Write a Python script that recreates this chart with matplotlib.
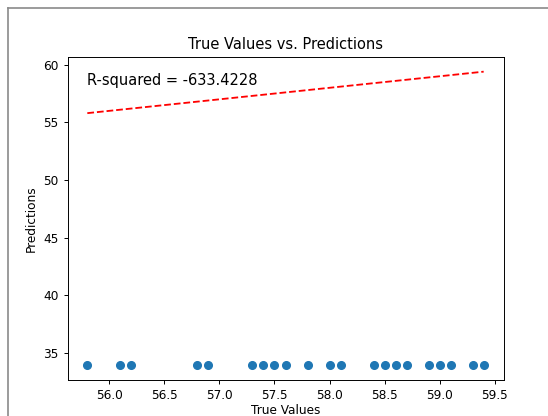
import numpy as np
import matplotlib
matplotlib.use('Agg')
import matplotlib.pyplot as plt
from matplotlib.lines import Line2D

# test-set targets and the (constant) model output
y_true = [55.8, 56.1, 56.2, 56.8, 56.9, 57.3, 57.4, 57.5, 57.6, 57.8, 58.0,
          58.1, 58.4, 58.5, 58.6, 58.7, 58.9, 59.0, 59.1, 59.3, 59.4]
y_pred = [33.96] * len(y_true)
r2 = -633.4228

sc = 0.875  # everything drawn a bit smaller than default
plt.rcParams['font.size'] = 10 * sc
plt.rcParams['axes.linewidth'] = 0.8 * sc
plt.rcParams['xtick.major.width'] = 0.8 * sc
plt.rcParams['ytick.major.width'] = 0.8 * sc
plt.rcParams['xtick.major.size'] = 3.5 * sc
plt.rcParams['ytick.major.size'] = 3.5 * sc

W, H = 548, 416
fig = plt.figure(figsize=(W / 100, H / 100), dpi=100)
ax = fig.add_axes([67.5 / W, (H - 379.5) / H, 436 / W, 322.5 / H])

ax.scatter(y_true, y_pred, s=36 * sc**2 * 1.1)
lo, hi = min(y_true), max(y_true)
ax.plot([lo, hi], [lo, hi], 'r--', lw=1.5 * sc)
ax.text(0.045, 0.95, 'R-squared = {:.4f}'.format(r2), transform=ax.transAxes,
        fontsize=12 * sc, va='top')
ax.set_title('True Values vs. Predictions', fontsize=12 * sc)
ax.set_xlabel('True Values', labelpad=1.5)
ax.set_ylabel('Predictions')

# grey output frame around the figure
fig.add_artist(Line2D([8 / W, 8 / W], [0, 1 - 7.5 / H], color='#8a8a8a', lw=1.2,
                      transform=fig.transFigure))
fig.add_artist(Line2D([8 / W, 1], [1 - 7.5 / H, 1 - 7.5 / H], color='#8a8a8a', lw=1.2,
                      transform=fig.transFigure))

fig.savefig('out.png', dpi=100)
